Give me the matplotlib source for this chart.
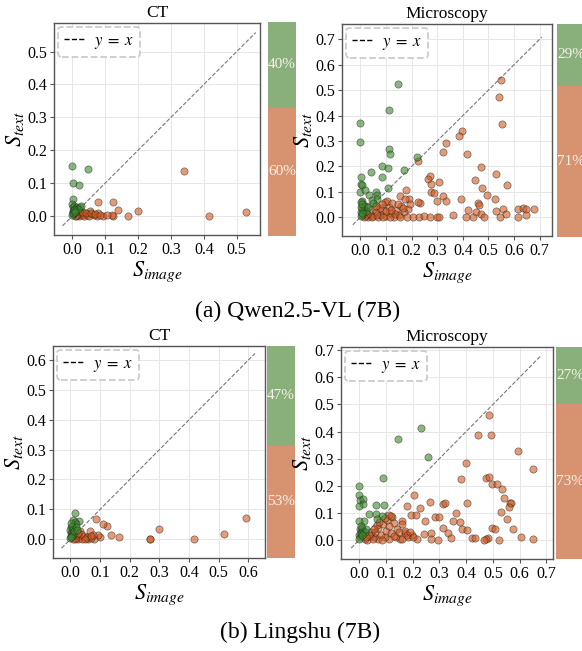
import numpy as np
import matplotlib
matplotlib.use("Agg")
import matplotlib.pyplot as plt
from matplotlib.lines import Line2D

plt.rcParams['font.family'] = ['Liberation Serif', 'DejaVu Serif']
plt.rcParams['mathtext.fontset'] = 'stix'

# (image score, text score) per sample
qwen_ct_img = [0.000, 0.049, 0.002, 0.021, 0.001, 0.000, 0.002, 0.004, 0.006, 0.010, 0.015, 0.022,
               0.025, 0.001, 0.003, 0.005, 0.002, 0.008, 0.012, 0.018, 0.000, 0.001, 0.004, 0.009,
               0.341, 0.417, 0.528, 0.199, 0.169, 0.140, 0.124, 0.079, 0.125, 0.094, 0.120, 0.075,
               0.060, 0.055, 0.078, 0.045, 0.038, 0.030, 0.025, 0.020, 0.035, 0.050, 0.065, 0.015,
               0.028, 0.042, 0.058, 0.070, 0.085, 0.105, 0.012, 0.008]
qwen_ct_txt = [0.152, 0.143, 0.101, 0.093, 0.051, 0.035, 0.028, 0.022, 0.030, 0.025, 0.027, 0.026,
               0.030, 0.015, 0.012, 0.008, 0.005, 0.014, 0.018, 0.020, 0.002, 0.009, 0.018, 0.011,
               0.136, 0.000, 0.011, 0.016, 0.000, 0.018, 0.043, 0.041, 0.000, 0.000, 0.002, 0.000,
               0.005, 0.015, 0.010, 0.003, 0.008, 0.002, 0.005, 0.000, 0.000, 0.000, 0.002, 0.003,
               0.012, 0.010, 0.008, 0.006, 0.004, 0.002, 0.001, 0.000]

qwen_mic_img = [0.147, 0.112, 0.000, 0.000, 0.112, 0.115, 0.220, 0.085, 0.109, 0.086, 0.040, 0.169,
                0.003, 0.004, 0.007, 0.109, 0.000, 0.017, 0.060, 0.066, 0.033, 0.008, 0.001, 0.044,
                0.063, 0.021, 0.007, 0.002, 0.005, 0.012, 0.020, 0.003, 0.008, 0.015, 0.001, 0.006,
                0.030, 0.050,
                0.549, 0.542, 0.552, 0.395, 0.385, 0.333, 0.322, 0.417, 0.223, 0.471, 0.529, 0.447,
                0.270, 0.264, 0.307, 0.277, 0.574, 0.474, 0.495, 0.277, 0.289, 0.177, 0.323, 0.393,
                0.527, 0.299, 0.333, 0.190, 0.156, 0.460, 0.461, 0.421, 0.531, 0.557, 0.616, 0.635,
                0.646, 0.648, 0.678, 0.616, 0.568, 0.544, 0.453, 0.471, 0.483, 0.439, 0.411, 0.361,
                0.206, 0.229, 0.249, 0.271, 0.298, 0.307, 0.234, 0.225, 0.186, 0.193,
                0.020, 0.030, 0.040, 0.050, 0.060, 0.070, 0.080, 0.090, 0.100, 0.110, 0.120, 0.130,
                0.140, 0.150, 0.160, 0.170, 0.180, 0.035, 0.055, 0.075, 0.095, 0.105, 0.125, 0.145,
                0.165, 0.085, 0.060, 0.045, 0.115, 0.135, 0.155, 0.025, 0.065, 0.090, 0.100, 0.120,
                0.175, 0.015]
qwen_mic_txt = [0.525, 0.422, 0.372, 0.294, 0.269, 0.250, 0.236, 0.203, 0.195, 0.160, 0.176, 0.185,
                0.159, 0.132, 0.125, 0.114, 0.098, 0.105, 0.101, 0.089, 0.089, 0.063, 0.058, 0.068,
                0.072, 0.045, 0.035, 0.020, 0.010, 0.030, 0.025, 0.005, 0.015, 0.045, 0.040, 0.050,
                0.040, 0.055,
                0.540, 0.474, 0.368, 0.338, 0.321, 0.291, 0.257, 0.249, 0.220, 0.198, 0.168, 0.147,
                0.163, 0.152, 0.140, 0.130, 0.125, 0.113, 0.088, 0.098, 0.097, 0.105, 0.084, 0.072,
                0.073, 0.063, 0.063, 0.072, 0.084, 0.056, 0.046, 0.028, 0.024, 0.034, 0.033, 0.038,
                0.031, 0.009, 0.031, 0.000, 0.012, 0.000, 0.020, 0.013, 0.000, 0.000, 0.000, 0.009,
                0.000, 0.000, 0.003, 0.000, 0.000, 0.000, 0.054, 0.060, 0.033, 0.052,
                0.005, 0.000, 0.010, 0.003, 0.020, 0.000, 0.010, 0.030, 0.005, 0.040, 0.015, 0.000,
                0.030, 0.010, 0.045, 0.020, 0.000, 0.020, 0.040, 0.035, 0.060, 0.065, 0.055, 0.050,
                0.035, 0.050, 0.045, 0.000, 0.000, 0.012, 0.000, 0.012, 0.008, 0.000, 0.025, 0.030,
                0.070, 0.002]

lingshu_ct_img = [0.592, 0.518, 0.418, 0.300, 0.268, 0.267, 0.163, 0.136, 0.122, 0.110, 0.087, 0.101,
                  0.093, 0.080, 0.065, 0.052, 0.060, 0.032, 0.020, 0.025, 0.030, 0.040, 0.045, 0.055,
                  0.070, 0.075, 0.015, 0.035, 0.048, 0.068, 0.010, 0.027,
                  0.016, 0.009, 0.028, 0.015, 0.003, 0.020, 0.000, 0.002, 0.005, 0.008, 0.001, 0.004,
                  0.010, 0.000, 0.006, 0.012, 0.003, 0.018, 0.001, 0.022]
lingshu_ct_txt = [0.070, 0.017, 0.001, 0.035, 0.000, 0.001, 0.007, 0.013, 0.043, 0.050, 0.068, 0.008,
                  0.014, 0.000, 0.028, 0.003, 0.002, 0.028, 0.005, 0.000, 0.010, 0.002, 0.012, 0.008,
                  0.004, 0.015, 0.002, 0.018, 0.000, 0.010, 0.000, 0.020,
                  0.087, 0.065, 0.061, 0.056, 0.040, 0.050, 0.030, 0.020, 0.025, 0.035, 0.010, 0.012,
                  0.018, 0.005, 0.045, 0.028, 0.008, 0.040, 0.055, 0.030]

lingshu_mic_img = [0.230, 0.147, 0.259, 0.088, 0.000, 0.000, 0.004, 0.016, 0.014, 0.000, 0.062, 0.093,
                   0.037, 0.063, 0.017, 0.000, 0.085, 0.068, 0.002, 0.005, 0.010, 0.000, 0.003, 0.008,
                   0.015, 0.020, 0.001, 0.012, 0.025, 0.006,
                   0.486, 0.445, 0.493, 0.595, 0.399, 0.650, 0.379, 0.476, 0.485, 0.498, 0.514, 0.534,
                   0.205, 0.541, 0.563, 0.568, 0.561, 0.265, 0.403, 0.312, 0.320, 0.180, 0.228, 0.361,
                   0.530, 0.194, 0.213, 0.282, 0.298, 0.245, 0.553, 0.350, 0.376, 0.124, 0.110, 0.160,
                   0.160, 0.129, 0.312, 0.383, 0.402, 0.331, 0.496, 0.509, 0.577, 0.606, 0.650, 0.522,
                   0.480, 0.474, 0.466, 0.422, 0.435, 0.342, 0.295, 0.269, 0.244, 0.269, 0.215, 0.197,
                   0.184, 0.172, 0.153, 0.138, 0.113, 0.097, 0.070, 0.055,
                   0.020, 0.030, 0.040, 0.050, 0.060, 0.070, 0.080, 0.090, 0.100, 0.110, 0.120, 0.130,
                   0.140, 0.150, 0.085, 0.065, 0.075, 0.105, 0.045, 0.035, 0.025, 0.160, 0.170, 0.180,
                   0.190, 0.200, 0.055, 0.095, 0.118]
lingshu_mic_txt = [0.412, 0.372, 0.305, 0.230, 0.200, 0.166, 0.147, 0.150, 0.133, 0.125, 0.128, 0.128,
                   0.096, 0.095, 0.069, 0.071, 0.089, 0.079, 0.040, 0.030, 0.045, 0.020, 0.010, 0.025,
                   0.035, 0.030, 0.005, 0.018, 0.040, 0.050,
                   0.461, 0.387, 0.387, 0.329, 0.285, 0.262, 0.225, 0.227, 0.232, 0.205, 0.205, 0.187,
                   0.166, 0.154, 0.135, 0.138, 0.123, 0.140, 0.135, 0.134, 0.135, 0.127, 0.119, 0.098,
                   0.103, 0.092, 0.092, 0.084, 0.084, 0.071, 0.076, 0.070, 0.066, 0.086, 0.092, 0.070,
                   0.058, 0.061, 0.044, 0.039, 0.037, 0.027, 0.045, 0.039, 0.039, 0.012, 0.002, 0.000,
                   0.007, 0.004, 0.001, 0.006, 0.009, 0.006, 0.000, 0.027, 0.021, 0.002, 0.005, 0.018,
                   0.012, 0.025, 0.005, 0.010, 0.004, 0.010, 0.005, 0.012,
                   0.005, 0.000, 0.015, 0.002, 0.030, 0.045, 0.020, 0.060, 0.035, 0.050, 0.025, 0.015,
                   0.040, 0.030, 0.000, 0.055, 0.065, 0.075, 0.030, 0.020, 0.012, 0.005, 0.035, 0.020,
                   0.030, 0.010, 0.040, 0.080, 0.090]

panel_titles = ['CT', 'Microscopy', 'CT', 'Microscopy']
text_pct = [40, 29, 47, 27]   # share of samples with S_text > S_image
image_pct = [60, 71, 53, 73]
captions = ['(a) Qwen2.5-VL (7B)', '(b) Lingshu (7B)']

panel_data = [(qwen_ct_img, qwen_ct_txt), (qwen_mic_img, qwen_mic_txt),
              (lingshu_ct_img, lingshu_ct_txt), (lingshu_mic_img, lingshu_mic_txt)]

# pixel boxes (left, top, right, bottom) for scatter and bar
W, H = 582, 651
scatter_box = [(54, 23, 260, 235), (342, 24, 552, 236), (53, 346, 265, 558), (341, 347, 553, 559)]
bar_box = [(268, 22, 296, 236), (557, 24, 585, 237), (267, 346, 295, 558), (556, 347, 584, 559)]
xlims = [(-0.056, 0.571), (-0.072, 0.748), (-0.059, 0.656), (-0.068, 0.725)]
ylims = [(-0.058, 0.587), (-0.074, 0.760), (-0.063, 0.647), (-0.070, 0.712)]
tick_max = [0.5, 0.7, 0.6, 0.7]

GREEN_PT = '#3b8a2a'
ORANGE_PT = '#d2581e'
GREEN_BAR = '#89b07a'
ORANGE_BAR = '#d79370'


def px_axes(fig, box):
    l, t, r, b = box
    return fig.add_axes([l / W, 1 - b / H, (r - l) / W, (b - t) / H])


fig = plt.figure(figsize=(W / 100, H / 100), dpi=100)

for i in range(4):
    img = np.array(panel_data[i][0])
    txt = np.array(panel_data[i][1])
    text_wins = txt > img

    ax = px_axes(fig, scatter_box[i])
    ax.set_axisbelow(True)
    ax.grid(True, color='#e6e6e6', linewidth=0.7)
    ax.scatter(img[~text_wins], txt[~text_wins], s=27, color=ORANGE_PT, alpha=0.6,
               edgecolors='#222222', linewidths=0.5, zorder=3)
    ax.scatter(img[text_wins], txt[text_wins], s=27, color=GREEN_PT, alpha=0.6,
               edgecolors='#222222', linewidths=0.5, zorder=3)

    lo = -0.03
    hi = max(img.max(), txt.max()) + 0.03
    ax.plot([lo, hi], [lo, hi], ls='--', color='#777777', lw=0.8, zorder=2)

    ax.set_xlim(*xlims[i])
    ax.set_ylim(*ylims[i])
    ticks = np.round(np.arange(0, tick_max[i] + 0.001, 0.1), 1)
    ax.set_xticks(ticks)
    ax.set_yticks(ticks)
    ax.set_xticklabels([f'{t:.1f}' for t in ticks])
    ax.set_yticklabels([f'{t:.1f}' for t in ticks])
    ax.tick_params(labelsize=11.5, length=3, width=0.8, color='#555555', pad=2)
    for sp in ax.spines.values():
        sp.set_color('#555555')
        sp.set_linewidth(1.0)

    ax.set_title(panel_titles[i], fontsize=12.5, pad=4)
    ax.set_xlabel('$S_{image}$', fontsize=16, labelpad=1)
    ax.set_ylabel('$S_{text}$', fontsize=16, labelpad=1)

    handle = Line2D([], [], ls='--', color='black', lw=1.0)
    leg = ax.legend([handle], [r'$y\;=\;x$'], loc='upper left', fontsize=12, handlelength=1.3,
                    handletextpad=0.5, borderpad=0.35, fancybox=True, framealpha=1.0,
                    borderaxespad=0.25)
    frame = leg.get_frame()
    frame.set_edgecolor('#cccccc')
    frame.set_linestyle('--')
    frame.set_linewidth(1.3)

    # stacked share bar
    bx = px_axes(fig, bar_box[i])
    bx.bar(0, image_pct[i], width=1, color=ORANGE_BAR)
    bx.bar(0, text_pct[i], bottom=image_pct[i], width=1, color=GREEN_BAR)
    bx.set_xlim(-0.5, 0.5)
    bx.set_ylim(0, 100)
    bx.axis('off')
    bx.text(0, image_pct[i] / 2, f'{image_pct[i]}%', ha='center', va='center',
            color='#f7f1ea', fontsize=11)
    bx.text(0, image_pct[i] + text_pct[i] / 2, f'{text_pct[i]}%', ha='center', va='center',
            color='#f7f1ea', fontsize=11)

fig.text(0.511, 1 - 311 / H, captions[0], ha='center', va='center', fontsize=17)
fig.text(0.515, 1 - 632 / H, captions[1], ha='center', va='center', fontsize=17)

fig.savefig('out.png', dpi=100)
